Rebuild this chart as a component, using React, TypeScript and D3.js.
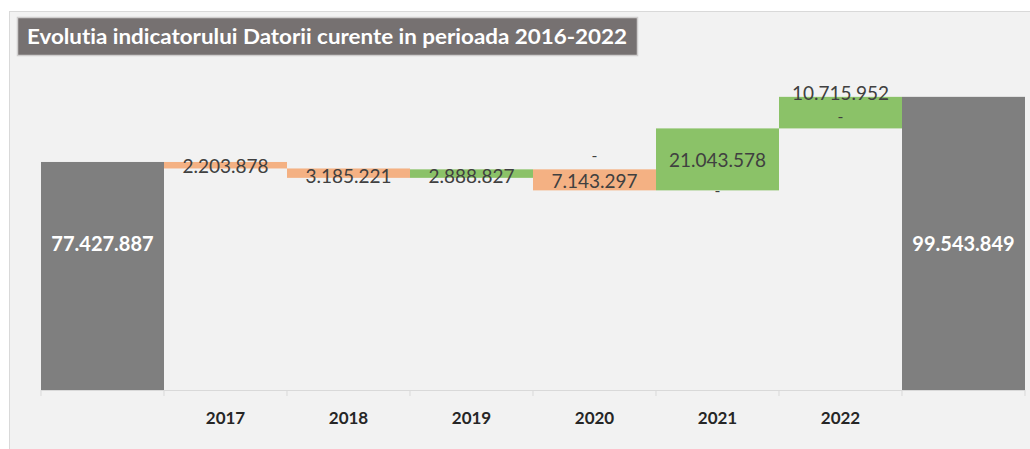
import React from "react";
import * as d3 from "d3";

const categories = ["", "2017", "2018", "2019", "2020", "2021", "2022", ""];
const startValue = 77427887;
const changes = [-2203878, -3185221, 2888827, -7143297, 21043578, 10715952];
const endValue = 99543849;
const titleText = "Evolutia indicatorului Datorii curente in perioada 2016-2022";

const fmt = (v: number) => d3.format(",")(Math.round(Math.abs(v))).replace(/,/g, ".");

const W = 1030, H = 449;
const GREY = "#7f7f7f", ORANGE = "#f4b183", GREEN = "#8bc268";
const FONT = "Lato, 'Open Sans', sans-serif";
const NOLIG = { fontVariantLigatures: "none" as const, fontFeatureSettings: "'liga' 0, 'clig' 0" };

export default function App() {
  const x = d3.scaleBand<number>().domain(d3.range(categories.length)).range([41, 1025]).padding(0);
  const y = d3.scaleLinear().domain([0, 100000000]).range([390, 95.5]);

  type Bar = { i: number; y0: number; y1: number; color: string; label: string; kind: string };
  const bars: Bar[] = [];
  bars.push({ i: 0, y0: 0, y1: startValue, color: GREY, label: fmt(startValue), kind: "total" });
  let run = startValue;
  changes.forEach((c, k) => {
    const next = run + c;
    bars.push({ i: k + 1, y0: Math.min(run, next), y1: Math.max(run, next), color: c < 0 ? ORANGE : GREEN, label: fmt(c), kind: "delta" });
    run = next;
  });
  bars.push({ i: categories.length - 1, y0: 0, y1: endValue, color: GREY, label: fmt(endValue), kind: "total" });

  // label vertical shifts (pixels) relative to bar centre, mimicking Excel's placement
  const labelShift: Record<number, number> = { 1: 1, 2: 3, 3: 3, 4: 1, 5: 1, 6: -19 };
  // "-" labels of zero-valued series (pixel offsets from bar edges)
  const dashes: { i: number; ref: "top" | "bottom"; dy: number }[] = [
    { i: 4, ref: "top", dy: -14 },
    { i: 5, ref: "bottom", dy: 0 },
    { i: 6, ref: "top", dy: 20 },
  ];

  const bw = x.bandwidth();
  const ticks = d3.range(categories.length + 1).map((k) => 41 + k * bw);

  return (
    <svg width={W} height={H} style={{ position: "absolute", left: 0, top: 0, ...NOLIG }} xmlns="http://www.w3.org/2000/svg">
      <rect x={0} y={0} width={W} height={H} fill="#ffffff" />
      <rect x={9.5} y={11.5} width={1030} height={460} fill="#f2f2f2" stroke="#d9d9d9" strokeWidth={1} />
      {/* title */}
      <rect x={17.5} y={17.5} width={620} height={38} fill="#767171" stroke="#d0cece" strokeWidth={1.5} />
      <text x={27} y={44} fill="#ffffff" fontFamily={FONT} fontWeight={700} fontSize={21} textLength={600} lengthAdjust="spacingAndGlyphs" style={NOLIG}>
        {titleText}
      </text>
      {/* bars */}
      {bars.map((b) => (
        <rect key={"b" + b.i} x={x(b.i)!} y={y(b.y1)} width={bw} height={y(b.y0) - y(b.y1)} fill={b.color} />
      ))}
      {/* axis */}
      <line x1={41} x2={1025} y1={390.5} y2={390.5} stroke="#d9d9d9" strokeWidth={1} />
      {ticks.map((t, k) => (
        <line key={"t" + k} x1={t} x2={t} y1={390} y2={396} stroke="#d9d9d9" strokeWidth={1} />
      ))}
      {categories.map((c, k) => (
        <text key={"c" + k} x={x(k)! + bw / 2} y={424} textAnchor="middle" fontFamily={FONT} fontWeight={700} fontSize={17} fill="#262626">
          {c}
        </text>
      ))}
      {/* labels */}
      {bars.map((b) => {
        const cx = x(b.i)! + bw / 2;
        if (b.kind === "total") {
          return (
            <text key={"l" + b.i} x={cx} y={251} textAnchor="middle" fontFamily={FONT} fontWeight={700} fontSize={20} fill="#ffffff">
              {b.label}
            </text>
          );
        }
        const cy = (y(b.y0) + y(b.y1)) / 2 + (labelShift[b.i] || 0);
        return (
          <text key={"l" + b.i} x={cx} y={cy} dy="0.35em" textAnchor="middle" fontFamily={FONT} fontSize={19} fill="#404040">
            {b.label}
          </text>
        );
      })}
      {dashes.map((d) => {
        const b = bars[d.i];
        const cx = x(b.i)! + bw / 2;
        const base = d.ref === "top" ? y(b.y1) : y(b.y0);
        return (
          <text key={"d" + d.i} x={cx} y={base + d.dy} dy="0.35em" textAnchor="middle" fontFamily={FONT} fontSize={16} fill="#404040">
            -
          </text>
        );
      })}
    </svg>
  );
}
